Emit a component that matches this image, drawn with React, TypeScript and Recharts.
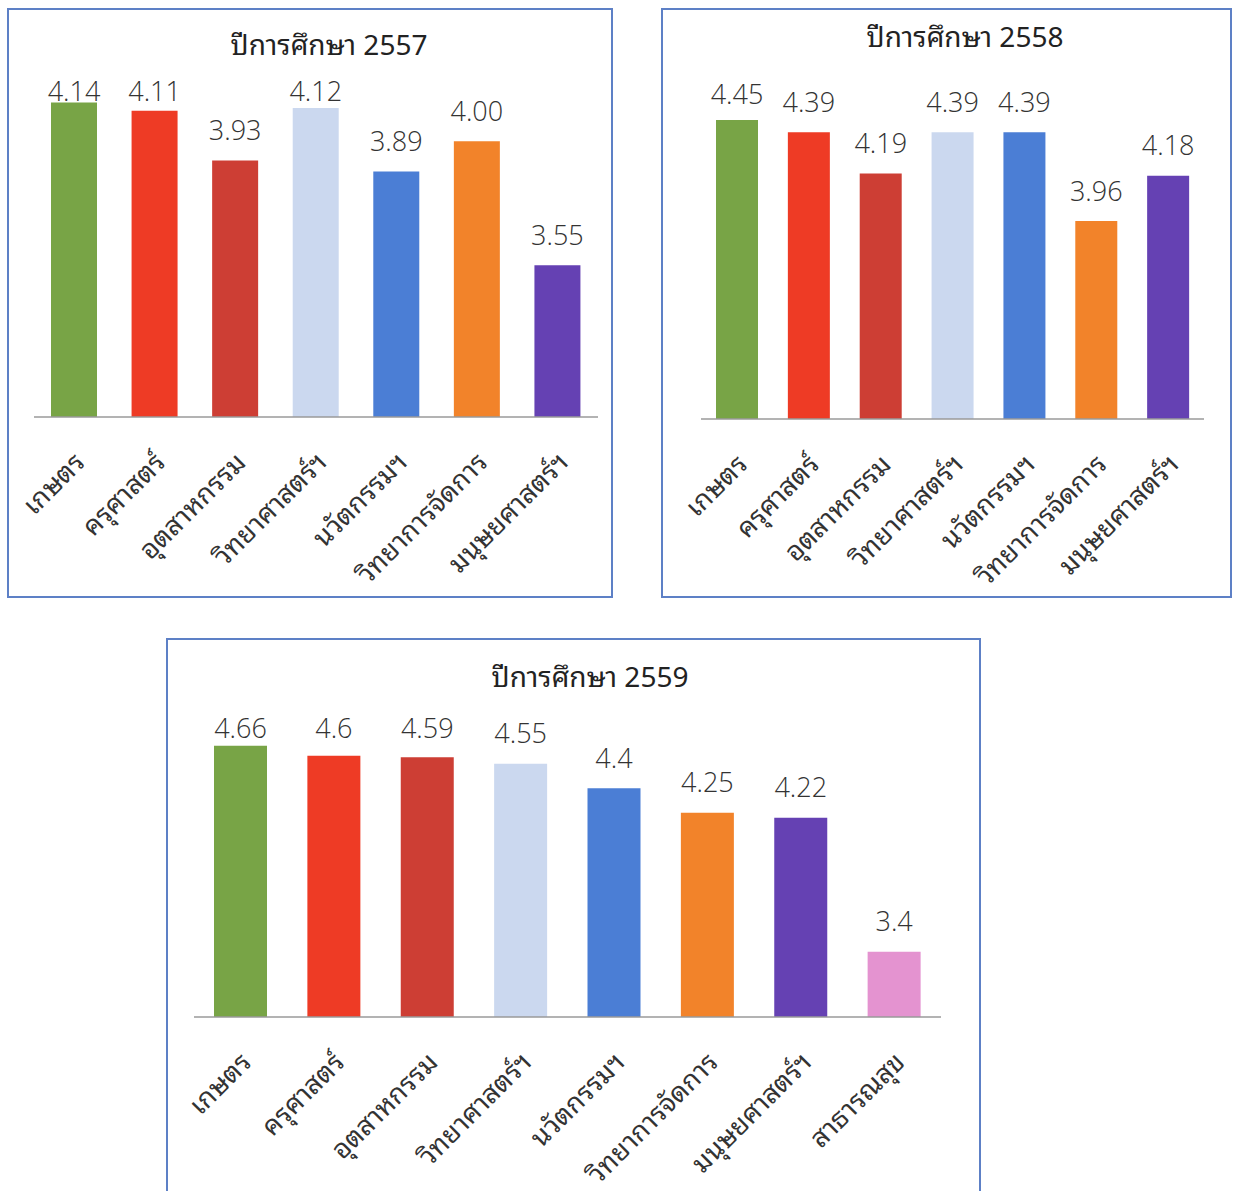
import React from 'react';
import { BarChart, Bar, XAxis, YAxis, Cell, LabelList } from 'recharts';

const faculties = ['เกษตร', 'ครุศาสตร์', 'อุตสาหกรรม', 'วิทยาศาสตร์ฯ', 'นวัตกรรมฯ', 'วิทยาการจัดการ', 'มนุษยศาสตร์ฯ'];
const faculties2559 = [...faculties, 'สาธารณสุข'];

const scores2557 = [4.14, 4.11, 3.93, 4.12, 3.89, 4.0, 3.55];
const scores2558 = [4.45, 4.39, 4.19, 4.39, 4.39, 3.96, 4.18];
const scores2559 = [4.66, 4.6, 4.59, 4.55, 4.4, 4.25, 4.22, 3.4];

const barColors = ['#78a446', '#ee3b25', '#cd3e34', '#cbd8ef', '#4b7ed5', '#f2832a', '#6541b3', '#e493d0'];

const FONT = '"Noto Sans Thai Looped", "Loma", "Garuda", "Tlwg Typo", "Noto Sans Thai", "Noto Sans", sans-serif';

const toRows = (names: string[], values: number[]) => names.map((name, i) => ({ name, value: values[i] }));

const ThaiTick = ({ x, y, payload, dx, dy }: any) => {
  const tx = x + dx;
  const ty = y + dy;
  return (
    <text x={tx} y={ty} transform={`rotate(-45 ${tx} ${ty})`} textAnchor="end" fontSize={27} fill="#333" fontFamily={FONT}>
      {payload.value}
    </text>
  );
};

// value label: centred ~31px above the bar top, but never above the plot top
const makeValueLabel = (fixed: boolean, minY: number) => (props: any) => {
  const { x, y, width, value } = props;
  const cy = Math.max(y - 31, minY);
  return (
    <text
      x={x + width / 2}
      y={cy}
      textAnchor="middle"
      dominantBaseline="central"
      fontSize={27}
      fontWeight={300}
      fill="#333"
      fontFamily='"Open Sans", "Noto Sans", sans-serif'
    >
      {fixed ? Number(value).toFixed(2) : String(value)}
    </text>
  );
};

interface PanelProps {
  left: number;
  top: number;
  width: number;
  height: number;
  title: string;
  titleX: number;
  titleY: number;
  names: string[];
  values: number[];
  yMax: number;
  margin: { top: number; left: number; right: number };
  axisHeight: number;
  barSize: number;
  fixed: boolean;
}

const Panel: React.FC<PanelProps> = (p) => {
  const data = toRows(p.names, p.values);
  return (
    <div style={{ position: 'absolute', left: p.left, top: p.top, width: p.width, height: p.height }}>
      <div
        style={{
          position: 'absolute', left: 0, top: 0, width: p.width, height: p.height,
          border: '2px solid #5d80c6', boxSizing: 'border-box',
        }}
      />
      <div
        style={{
          position: 'absolute', left: p.titleX - 200, top: p.titleY - 21, width: 400, textAlign: 'center',
          fontFamily: FONT, fontSize: 28, color: '#222', lineHeight: '40px',
        }}
      >
        {p.title}
      </div>
      <div style={{ position: 'absolute', left: 0, top: 0 }}>
        <BarChart width={p.width} height={p.height} data={data} margin={{ top: p.margin.top, left: p.margin.left, right: p.margin.right, bottom: 0 }}>
          <XAxis
            dataKey="name"
            height={p.axisHeight}
            interval={0}
            tickLine={false}
            tickSize={0}
            tickMargin={0}
            axisLine={{ stroke: '#9a9a9a', strokeWidth: 1.5 }}
            tick={<ThaiTick dx={12} dy={47} />}
          />
          <YAxis hide domain={[3, p.yMax]} allowDataOverflow />
          <Bar dataKey="value" barSize={p.barSize} isAnimationActive={false}>
            {data.map((entry, index) => (
              <Cell key={`cell-${index}`} fill={barColors[index]} />
            ))}
            <LabelList dataKey="value" content={makeValueLabel(p.fixed, p.margin.top + 4)} />
          </Bar>
        </BarChart>
      </div>
    </div>
  );
};

export default function App() {
  return (
    <div style={{ position: 'absolute', left: 0, top: 0, width: 1239, height: 1191, overflow: 'hidden', background: '#fff' }}>
      <Panel
        left={7} top={8} width={606} height={590}
        title="ปีการศึกษา 2557" titleX={322} titleY={36}
        names={faculties} values={scores2557} yMax={4.2}
        margin={{ top: 78, left: 27, right: 15 }} axisHeight={181} barSize={46} fixed
      />
      <Panel
        left={661} top={8} width={571} height={590}
        title="ปีการศึกษา 2558" titleX={304} titleY={28}
        names={faculties} values={scores2558} yMax={4.6}
        margin={{ top: 81, left: 40, right: 28 }} axisHeight={179} barSize={42} fixed
      />
      <Panel
        left={166} top={638} width={815} height={560}
        title="ปีการศึกษา 2559" titleX={424} titleY={38}
        names={faculties2559} values={scores2559} yMax={4.8}
        margin={{ top: 85, left: 28, right: 40 }} axisHeight={181} barSize={53} fixed={false}
      />
    </div>
  );
}
